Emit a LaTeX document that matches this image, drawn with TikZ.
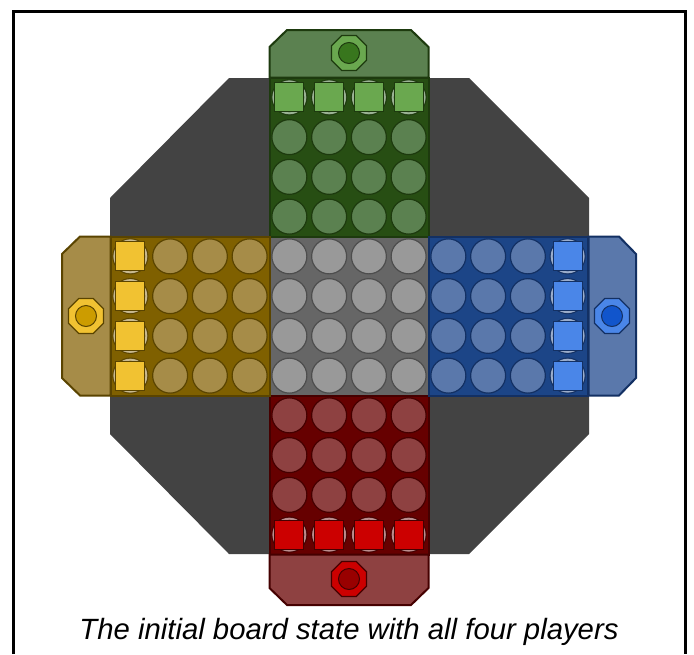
\documentclass[tikz,border=0pt]{standalone}
\usepackage{fontspec}
\setsansfont{Liberation Sans}
\usepackage{xcolor}
\usepackage{tikz}
\usetikzlibrary{shapes.geometric}
\definecolor{boardgrey}{HTML}{434343}
\definecolor{bgmid}{HTML}{666666}
\definecolor{holemid}{HTML}{999999}
\definecolor{linemid}{HTML}{4d4d4d}
\definecolor{bggrn}{HTML}{274e13}
\definecolor{holegrn}{HTML}{5b8150}
\definecolor{linegrn}{HTML}{1d3a0e}
\definecolor{piecegrn}{HTML}{6aa84f}
\definecolor{coregrn}{HTML}{38761d}
\definecolor{bgyel}{HTML}{7f6000}
\definecolor{holeyel}{HTML}{a68c48}
\definecolor{lineyel}{HTML}{5a4400}
\definecolor{pieceyel}{HTML}{f1c232}
\definecolor{coreyel}{HTML}{cc9c00}
\definecolor{bgblu}{HTML}{1c4587}
\definecolor{holeblu}{HTML}{5a78ab}
\definecolor{lineblu}{HTML}{133063}
\definecolor{pieceblu}{HTML}{4a86e8}
\definecolor{coreblu}{HTML}{1155cc}
\definecolor{bgred}{HTML}{660000}
\definecolor{holered}{HTML}{8e4141}
\definecolor{linered}{HTML}{450000}
\definecolor{piecered}{HTML}{cc0000}
\definecolor{corered}{HTML}{990000}

\begin{document}
\begin{tikzpicture}[
  x=1pt, y=-1pt,
  hole/.style={circle, minimum size=35pt, inner sep=0pt, line width=1.2pt},
  slot/.style={circle, minimum size=32pt, inner sep=0pt, line width=2pt,
               draw=white, draw opacity=0.4},
  piece/.style={rectangle, minimum size=29pt, inner sep=0pt, line width=0.8pt},
  emblem/.style={regular polygon, regular polygon sides=8, minimum size=38pt,
                 inner sep=0pt, line width=1.2pt},
  core/.style={circle, minimum size=21pt, inner sep=0pt, line width=1pt},
  homecap/.style={line width=2pt, line join=miter},
  arm/.style={line width=2pt}]
\def\cs{39.75}
\useasboundingbox (0,0) rectangle (694,654);
\draw[line width=3pt] (13,654) -- (13,11) -- (685,11) -- (685,654);
\fill[boardgrey] (229,78) -- (469,78) -- (589,198) -- (589,434)
  -- (469,554) -- (229,554) -- (110,434) -- (110,198) -- cycle;
\foreach \pl/\ox/\oy in {mid/269.5/236.5, grn/269.5/77.5, red/269.5/395.5,
                          yel/110.5/236.5, blu/428.5/236.5}{
  \filldraw[arm, fill=bg\pl, draw=line\pl] (\ox,\oy) rectangle ++(4*\cs,4*\cs);
  \foreach \i in {0,...,3}
    \foreach \j in {0,...,3}
      \node[hole, fill=hole\pl, draw=line\pl] (h-\pl-\i-\j)
        at ({\ox+(\i+0.5)*\cs},{\oy+(\j+0.5)*\cs}) {};
}
\filldraw[homecap, fill=holegrn, draw=linegrn] (269.5,77.5) -- (269.5,47) -- (287,30)
  -- (411,30) -- (428.5,47) -- (428.5,77.5) -- cycle;
\filldraw[homecap, fill=holered, draw=linered] (269.5,554.5) -- (269.5,588) -- (287,605)
  -- (411,605) -- (428.5,588) -- (428.5,554.5) -- cycle;
\filldraw[homecap, fill=holeyel, draw=lineyel] (110.5,236.5) -- (80,236.5) -- (62,254)
  -- (62,378) -- (80,395.5) -- (110.5,395.5) -- cycle;
\filldraw[homecap, fill=holeblu, draw=lineblu] (588.5,236.5) -- (619,236.5) -- (636,254)
  -- (636,378) -- (619,395.5) -- (588.5,395.5) -- cycle;
\foreach \pl/\x/\y in {grn/349/53, red/349/579, yel/86/316, blu/612/316}{
  \node[emblem, fill=piece\pl, draw=line\pl] (e-\pl) at (\x,\y) {};
  \node[core, fill=core\pl, draw=line\pl] (c-\pl) at (e-\pl.center) {};
}
\foreach \k in {0,...,3}{
  \node[slot] (s-grn-\k) at (h-grn-\k-0) {};
  \node[piece, fill=piecegrn, draw=linegrn] (p-grn-\k) at (h-grn-\k-0) {};
  \node[slot] (s-red-\k) at (h-red-\k-3) {};
  \node[piece, fill=piecered, draw=linered] (p-red-\k) at (h-red-\k-3) {};
  \node[slot] (s-yel-\k) at (h-yel-0-\k) {};
  \node[piece, fill=pieceyel, draw=lineyel] (p-yel-\k) at (h-yel-0-\k) {};
  \node[slot] (s-blu-\k) at (h-blu-3-\k) {};
  \node[piece, fill=pieceblu, draw=lineblu] (p-blu-\k) at (h-blu-3-\k) {};
}
\node[anchor=base, inner sep=0pt, font=\sffamily\itshape\fontsize{29.3}{34}\selectfont]
  (caption) at (349,639) {The initial board state with all four players};
\end{tikzpicture}
\end{document}
